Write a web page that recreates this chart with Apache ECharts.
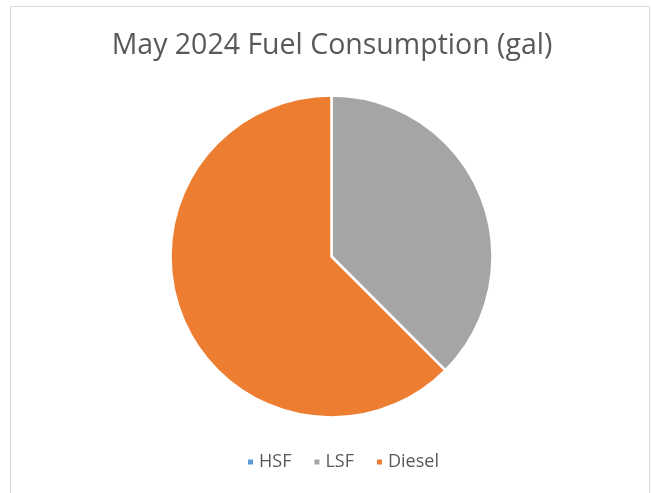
<!DOCTYPE html>
<html>
<head>
<meta charset="utf-8">
<script src="https://cdn.jsdelivr.net/npm/echarts@6/dist/echarts.min.js"></script>
<style>
  html, body { margin: 0; padding: 0; background: #fff; }
  #chart { width: 651px; height: 493px; }
</style>
</head>
<body>
<div id="chart"></div>
<script>
// 数据
var categories = ['HSF', 'LSF', 'Diesel'];
var gallons = [0, 7500, 12500];
var colors = ['#5B9BD5', '#A5A5A5', '#ED7D31'];

var chart = echarts.init(document.getElementById('chart'));

var option = {
  animation: false,
  color: colors,
  title: {
    text: 'May 2024 Fuel Consumption (gal)',
    left: 327,
    top: 26,
    textAlign: 'center',
    textStyle: {
      fontFamily: 'Open Sans',
      fontWeight: 'normal',
      fontSize: 28.5,
      color: '#595959'
    }
  },
  legend: {
    bottom: 17,
    left: 241,
    icon: 'rect',
    itemWidth: 7,
    itemHeight: 7,
    itemGap: 21,
    textStyle: {
      fontFamily: 'Open Sans',
      fontSize: 18,
      color: '#595959'
    },
    data: categories
  },
  // 外框
  graphic: [{
    type: 'rect',
    shape: { x: 10.5, y: 6.5, width: 639, height: 500 },
    style: { fill: 'none', stroke: '#D9D9D9', lineWidth: 1 },
    silent: true
  }],
  series: [{
    type: 'pie',
    center: [331.5, 256.5],
    radius: 161,
    startAngle: 90,
    clockwise: true,
    label: { show: false },
    labelLine: { show: false },
    itemStyle: { borderColor: '#fff', borderWidth: 2.5 },
    emphasis: { disabled: true },
    data: categories.map(function (name, i) {
      return { name: name, value: gallons[i] };
    })
  }]
};

chart.setOption(option);
</script>
</body>
</html>
